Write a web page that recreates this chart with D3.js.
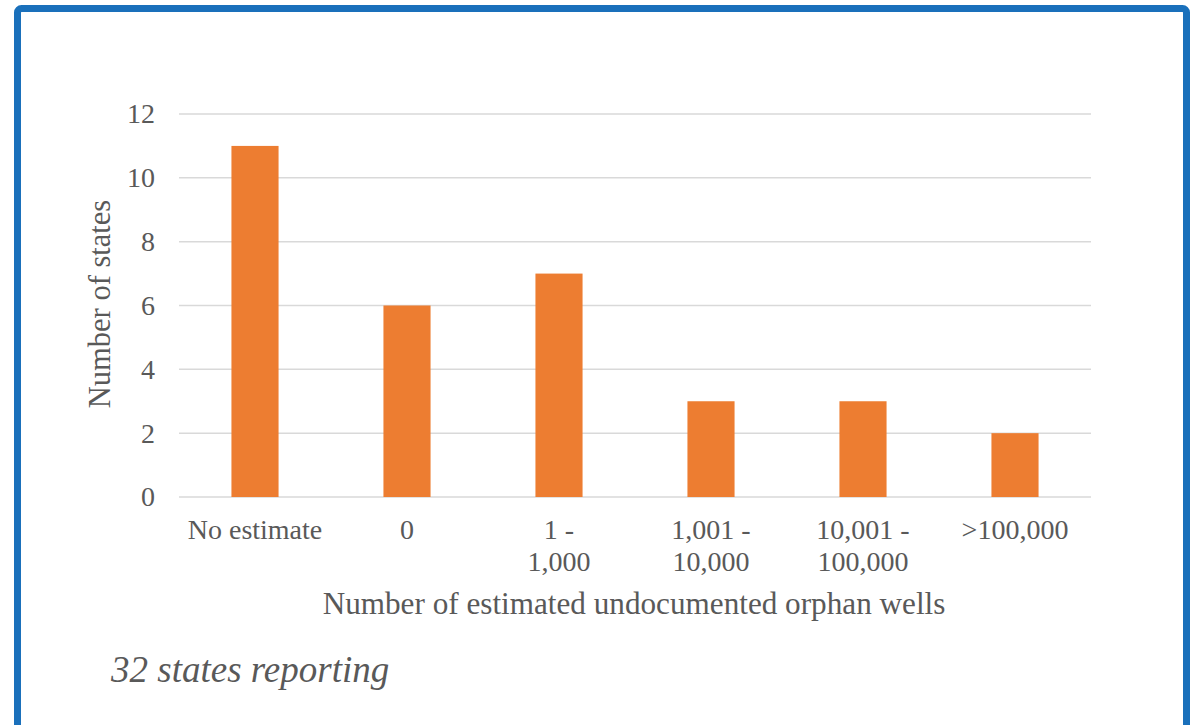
<!DOCTYPE html>
<html>
<head>
<meta charset="utf-8">
<script src="https://cdn.jsdelivr.net/npm/d3@7"></script>
<style>
  html, body { margin: 0; padding: 0; background: #fff; }
  svg { display: block; }
</style>
</head>
<body>
<svg id="chart" width="1197" height="725"></svg>
<script>
const categories = [["No estimate"], ["0"], ["1 -", "1,000"], ["1,001 -", "10,000"], ["10,001 -", "100,000"], [">100,000"]];
const values = [11, 6, 7, 3, 3, 2];
const yTicks = [0, 2, 4, 6, 8, 10, 12];
const xTitle = "Number of estimated undocumented orphan wells";
const yTitle = "Number of states";
const note = "32 states reporting";

(function () {
const svg = d3.select("#chart");
const FONT = "Liberation Serif";
const textColor = "#595959";

// frame
svg.append("rect")
  .attr("x", 17.5).attr("y", 8.5)
  .attr("width", 1169).attr("height", 730)
  .attr("rx", 4)
  .attr("fill", "#fff")
  .attr("stroke", "#1a70bb")
  .attr("stroke-width", 7);

const mLeft = 179, mRight = 1091, mTop = 114, mBottom = 497;
const keys = categories.map((c, i) => i);
const x = d3.scaleBand().domain(keys).range([mLeft, mRight]).paddingInner(0.69).paddingOuter(0.345);
const y = d3.scaleLinear().domain([0, 12]).range([mBottom, mTop]);

// gridlines
svg.append("g")
  .selectAll("line")
  .data(yTicks)
  .join("line")
  .attr("x1", mLeft).attr("x2", mRight)
  .attr("y1", d => y(d)).attr("y2", d => y(d))
  .attr("stroke", "#d9d9d9")
  .attr("stroke-width", 1.5);

// y axis
const yAxis = svg.append("g")
  .attr("transform", `translate(${mLeft},0)`)
  .call(d3.axisLeft(y).tickValues(yTicks).tickSize(0).tickPadding(24).tickFormat(d3.format("d")));
yAxis.select(".domain").remove();
yAxis.selectAll("text")
  .style("font-family", FONT)
  .style("font-size", "28px")
  .attr("fill", textColor);

// bars
svg.append("g")
  .selectAll("rect")
  .data(values)
  .join("rect")
  .attr("x", (d, i) => x(i))
  .attr("width", x.bandwidth())
  .attr("y", d => y(d))
  .attr("height", d => y(0) - y(d))
  .attr("fill", "#ed7d31");

// x axis labels
const xAxis = svg.append("g")
  .attr("transform", `translate(0,${mBottom})`)
  .call(d3.axisBottom(x).tickSize(0).tickFormat(""));
xAxis.select(".domain").remove();
xAxis.selectAll(".tick")
  .append("text")
  .style("font-family", FONT)
  .style("font-size", "28px")
  .attr("fill", textColor)
  .attr("text-anchor", "middle")
  .selectAll("tspan")
  .data(i => categories[i])
  .join("tspan")
  .attr("x", 0)
  .attr("y", (d, j) => 42 + j * 32)
  .text(d => d);

// axis titles
svg.append("text")
  .attr("x", (mLeft + mRight) / 2 - 1)
  .attr("y", 614)
  .attr("text-anchor", "middle")
  .style("font-family", FONT)
  .style("font-size", "31.2px")
  .attr("fill", textColor)
  .text(xTitle);

svg.append("text")
  .attr("transform", `translate(110,${304}) rotate(-90)`)
  .attr("text-anchor", "middle")
  .style("font-family", FONT)
  .style("font-size", "30.5px")
  .attr("fill", textColor)
  .text(yTitle);

svg.append("text")
  .attr("x", 111)
  .attr("y", 682)
  .style("font-family", FONT)
  .style("font-style", "italic")
  .style("font-size", "37px")
  .attr("fill", textColor)
  .text(note);
})();
</script>
</body>
</html>
